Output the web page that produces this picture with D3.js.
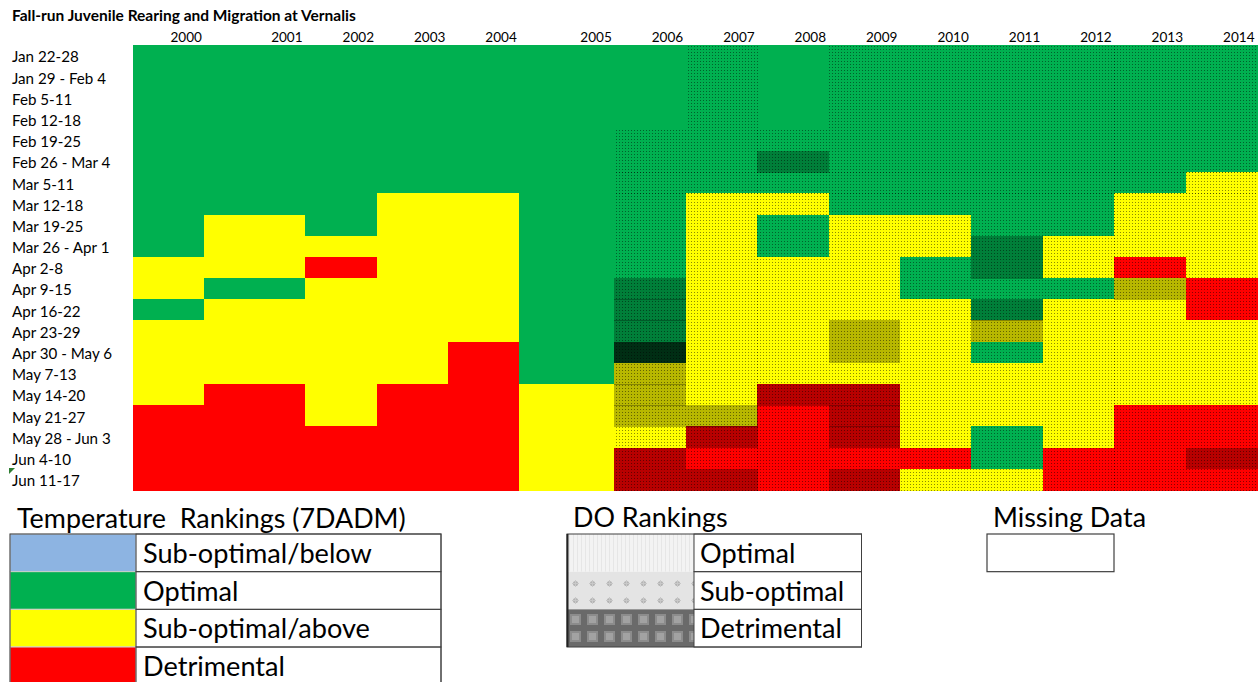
<!DOCTYPE html>
<html><head><meta charset="utf-8">
<script src="https://cdn.jsdelivr.net/npm/d3@7"></script>
<style>
html,body{margin:0;padding:0;background:#fff;}
svg{display:block;}
text{font-family:Lato,"Open Sans",sans-serif;fill:#000;white-space:pre;}
</style></head><body>
<svg id="chart" width="1258" height="682"></svg>
<script>
// ---------------- DATA ----------------
const chartTitle = "Fall-run Juvenile Rearing and Migration at Vernalis";
const years = ["2000","2001","2002","2003","2004","2005","2006","2007","2008","2009","2010","2011","2012","2013","2014"];
const weeks = ["Jan 22-28","Jan 29 - Feb 4","Feb 5-11","Feb 12-18","Feb 19-25","Feb 26 - Mar 4","Mar 5-11","Mar 12-18","Mar 19-25","Mar 26 - Apr 1","Apr 2-8","Apr 9-15","Apr 16-22","Apr 23-29","Apr 30 - May 6","May 7-13","May 14-20","May 21-27","May 28 - Jun 3","Jun 4-10","Jun 11-17"];
// Temperature ranking per year, one code per week: B below, G optimal, Y above, R detrimental
const temperatureRankings = [
  "GGGGGGGGGGYYGYYYYRRRR", // 2000
  "GGGGGGGGYYYGYYYYRRRRR", // 2001
  "GGGGGGGGGYRYYYYYYYRRR", // 2002
  "GGGGGGGYYYYYYYYYRRRRR", // 2003
  "GGGGGGGYYYYYYYRRRRRRR", // 2004
  "GGGGGGGGGGGGGGGGYYYYY", // 2005
  "GGGGGGGGGGGGGGGYYYYRR", // 2006
  "GGGGGGGYYYYYYYYYYYRRR", // 2007
  "GGGGGGGYGGYYYYYYRRRRR", // 2008
  "GGGGGGGGYYYYYYYYRRRRR", // 2009
  "GGGGGGGGYYGGYYYYYYYRY", // 2010
  "GGGGGGGGGGGGGYGYYYGGY", // 2011
  "GGGGGGGGGYYGYYYYYYYRR", // 2012
  "GGGGGGGYYYRYYYYYYRRRR", // 2013
  "GGGGGGYYYYYRRYYYYRRRR"  // 2014
];
// DO ranking per year, one code per week: "-" no data, O optimal, S sub-optimal, D detrimental
const doRankings = [
  "---------------------", // 2000
  "---------------------", // 2001
  "---------------------", // 2002
  "---------------------", // 2003
  "---------------------", // 2004
  "---------------------", // 2005
  "----OOOOOOOSSSDSSSOSS", // 2006
  "OOOOOOOOOOOOOOOOOSSOS", // 2007
  "----OSOOOOOOOOOOSOOOO", // 2008
  "OOOOOOOOOOOOOSSOSSSOS", // 2009
  "OOOOOOOOOOOOOOOOOOOOO", // 2010
  "OOOOOOOOOSSOSSOOOOOOO", // 2011
  "OOOOOOOOOOOOOOOOOOOOO", // 2012
  "OOOOOOOOOOOSOOOOOOOOO", // 2013
  "OOOOOOOOOOOOOOOOOOOSO"  // 2014
];
const temperatureLegendTitle = "Temperature  Rankings (7DADM)";
const temperatureLegendCodes = ["B","G","Y","R"];
const temperatureLegendLabels = ["Sub-optimal/below","Optimal","Sub-optimal/above","Detrimental"];
const doLegendTitle = "DO Rankings";
const doLegendCodes = ["O","S","D"];
const doLegendLabels = ["Optimal","Sub-optimal","Detrimental"];
const missingLegendTitle = "Missing Data";

// ---------------- LAYOUT / STYLE ----------------
const columnWeights = [1,1.41,1,1,1,1.33,1,1,1,1,1,1,1,1,1];
const grid = {left:133, right:1257, top:45, bottom:490};
const tempColors = {B:"#8db4e2", G:"#00b050", Y:"#ffff00", R:"#ff0000"};
const doShade = {O:0, S:0.28, D:0.74};

const svg = d3.select("#chart");
const defs = svg.append("defs");

// stipple pattern for cells that have DO data
const dots = defs.append("pattern").attr("id","doDots").attr("patternUnits","userSpaceOnUse")
  .attr("width",3).attr("height",3);
dots.append("rect").attr("x",1).attr("y",1).attr("width",1).attr("height",1)
  .attr("fill","#000").attr("fill-opacity",0.45);

// legend swatch patterns
const pO = defs.append("pattern").attr("id","lgO").attr("patternUnits","userSpaceOnUse").attr("width",4).attr("height",4);
pO.append("rect").attr("width",4).attr("height",4).attr("fill","#f3f3f3");
pO.append("rect").attr("x",1).attr("width",1).attr("height",4).attr("fill","#e6e6e6");
const pS = defs.append("pattern").attr("id","lgS").attr("patternUnits","userSpaceOnUse").attr("width",17).attr("height",17).attr("x",567).attr("y",575);
pS.append("rect").attr("width",17).attr("height",17).attr("fill","#e4e4e4");
pS.append("circle").attr("cx",8.5).attr("cy",8.5).attr("r",2.6).attr("fill","#b4b4b4");
pS.append("rect").attr("x",5).attr("y",8).attr("width",7).attr("height",1).attr("fill","#c8c8c8");
pS.append("rect").attr("x",8).attr("y",5).attr("width",1).attr("height",7).attr("fill","#c8c8c8");
const pD = defs.append("pattern").attr("id","lgD").attr("patternUnits","userSpaceOnUse").attr("width",17).attr("height",17).attr("x",567).attr("y",611);
pD.append("rect").attr("width",17).attr("height",17).attr("fill","#6a6a6a");
pD.append("rect").attr("x",3).attr("y",3).attr("width",11).attr("height",11).attr("fill","#8c8c8c");
pD.append("rect").attr("x",5).attr("y",5).attr("width",7).attr("height",7).attr("fill","#a2a2a2");

// ---------------- SCALES ----------------
const cum = [0]; columnWeights.forEach(w => cum.push(cum[cum.length-1]+w));
const xUnits = d3.scaleLinear().domain([0, cum[cum.length-1]]).range([grid.left, grid.right]);
const x0 = d3.scaleOrdinal().domain(years).range(cum.slice(0,-1).map(v => xUnits(v)));
const x1 = d3.scaleOrdinal().domain(years).range(cum.slice(1).map(v => xUnits(v)));
const y = d3.scaleBand().domain(weeks).range([grid.top, grid.bottom]).padding(0);
const tempColor = d3.scaleOrdinal().domain(Object.keys(tempColors)).range(Object.values(tempColors));

// ---------------- CELLS ----------------
const cells = [];
years.forEach((yr, i) => {
  weeks.forEach((wk, j) => {
    cells.push({year: yr, week: wk, temp: temperatureRankings[i][j], dox: doRankings[i][j]});
  });
});
const gCells = svg.append("g").attr("shape-rendering","crispEdges");
gCells.selectAll("rect.cell").data(cells).join("rect").attr("class","cell")
  .attr("x", d => x0(d.year)).attr("y", d => y(d.week))
  .attr("width", d => x1(d.year) - x0(d.year) + 0.5).attr("height", y.bandwidth() + 0.5)
  .attr("fill", d => tempColor(d.temp));
const doCells = cells.filter(d => d.dox !== "-");
gCells.selectAll("rect.shade").data(doCells.filter(d => doShade[d.dox] > 0)).join("rect").attr("class","shade")
  .attr("x", d => x0(d.year)).attr("y", d => y(d.week))
  .attr("width", d => x1(d.year) - x0(d.year) + 0.5).attr("height", y.bandwidth() + 0.5)
  .attr("fill", "#000").attr("fill-opacity", d => doShade[d.dox]);
gCells.selectAll("rect.dots").data(doCells).join("rect").attr("class","dots")
  .attr("x", d => x0(d.year)).attr("y", d => y(d.week))
  .attr("width", d => x1(d.year) - x0(d.year) + 0.5).attr("height", y.bandwidth() + 0.5)
  .attr("fill", "url(#doDots)");

// ---------------- TEXT HELPERS ----------------
function fitSize(str, weight, target) {
  const t = svg.append("text").attr("font-size", 100).attr("font-weight", weight).text(str);
  const w = t.node().getComputedTextLength();
  t.remove();
  return 100 * target / w;
}

// title
svg.append("text").attr("x", 12).attr("y", 20.5).attr("font-weight", 700)
  .attr("font-size", fitSize(chartTitle, 700, 344)).text(chartTitle);

// year labels (right-aligned like spreadsheet numbers)
const yearSize = fitSize("2000", 400, 31.5);
svg.append("g").selectAll("text").data(years).join("text")
  .attr("x", d => x1(d) - 2.5).attr("y", 42).attr("text-anchor","end")
  .attr("font-size", yearSize).text(d => d);

// week labels
const weekSize = fitSize("Mar 26 - Apr 1", 400, 97.5);
svg.append("g").selectAll("text").data(weeks).join("text")
  .attr("x", 12).attr("y", d => y(d) + y.bandwidth()/2 + 6.8)
  .attr("font-size", weekSize).text(d => d);

// comment marker
svg.append("path").attr("d","M9,468L15,468L9,474Z").attr("fill","#2e7d32");

// ---------------- LEGENDS ----------------
const legendRowH = 37.67, legendTop = 534;
const legTitleSize = fitSize(temperatureLegendTitle, 400, 389);
const legLabelSize = fitSize("Sub-optimal/below", 400, 229);

// temperature legend
svg.append("text").attr("x", 17).attr("y", 528).attr("font-size", legTitleSize).text(temperatureLegendTitle);
const tl = svg.append("g");
tl.selectAll("rect.sw").data(temperatureLegendCodes).join("rect").attr("class","sw")
  .attr("x", 10).attr("y", (d,i) => legendTop + i*legendRowH)
  .attr("width", 126).attr("height", legendRowH)
  .attr("fill", d => tempColor(d)).attr("stroke", "#d0d0d0").attr("stroke-width", 1);
tl.selectAll("rect.lb").data(temperatureLegendLabels).join("rect").attr("class","lb")
  .attr("x", 136).attr("y", (d,i) => legendTop + i*legendRowH)
  .attr("width", 305).attr("height", legendRowH)
  .attr("fill", "none").attr("stroke", "#404040").attr("stroke-width", 1);
tl.selectAll("text").data(temperatureLegendLabels).join("text")
  .attr("x", 143).attr("y", (d,i) => legendTop + i*legendRowH + 29)
  .attr("font-size", legLabelSize).text(d => d);
tl.append("rect").attr("x",10).attr("y",legendTop).attr("width",431).attr("height",legendRowH*4)
  .attr("fill","none").attr("stroke","#404040").attr("stroke-width",1);

// DO legend
svg.append("text").attr("x", 573).attr("y", 527).attr("font-size", legTitleSize).text(doLegendTitle);
const dl = svg.append("g");
dl.selectAll("rect.sw").data(doLegendCodes).join("rect").attr("class","sw")
  .attr("x", 567).attr("y", (d,i) => legendTop + i*legendRowH)
  .attr("width", 127).attr("height", legendRowH)
  .attr("fill", d => "url(#lg" + d + ")");
dl.selectAll("rect.lb").data(doLegendLabels).join("rect").attr("class","lb")
  .attr("x", 694).attr("y", (d,i) => legendTop + i*legendRowH)
  .attr("width", 167.5).attr("height", legendRowH)
  .attr("fill", "none").attr("stroke", "#404040").attr("stroke-width", 1);
dl.selectAll("text").data(doLegendLabels).join("text")
  .attr("x", 700).attr("y", (d,i) => legendTop + i*legendRowH + 29)
  .attr("font-size", legLabelSize).text(d => d);
dl.append("rect").attr("x",567).attr("y",legendTop).attr("width",294.5).attr("height",legendRowH*3)
  .attr("fill","none").attr("stroke","#404040").attr("stroke-width",1);
dl.append("line").attr("x1",567.5).attr("x2",567.5).attr("y1",legendTop).attr("y2",legendTop+legendRowH*3)
  .attr("stroke","#222").attr("stroke-width",2);

// missing data legend
svg.append("text").attr("x", 993).attr("y", 527).attr("font-size", legTitleSize).text(missingLegendTitle);
svg.append("rect").attr("x", 987).attr("y", legendTop).attr("width", 127).attr("height", legendRowH)
  .attr("fill", "#fff").attr("stroke", "#404040").attr("stroke-width", 1.2);
</script>
</body></html>
